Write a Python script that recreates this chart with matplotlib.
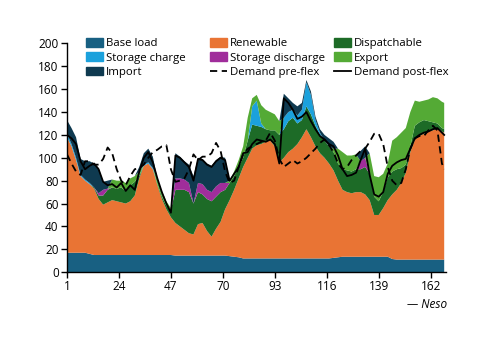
import matplotlib.pyplot as plt
from matplotlib.patches import Patch
from matplotlib.lines import Line2D

plt.rcParams['font.family'] = ['Open Sans', 'DejaVu Sans']

# every second hour over one week (12 values per line + last hour)
hours = list(range(1, 168, 2)) + [168]

base_load = [17, 17, 17, 17, 17, 16, 15, 15, 15, 15, 15, 15,
             15, 15, 15, 15, 15, 15, 15, 15, 15, 15, 15, 15,
             14.5, 14.5, 14.5, 14.5, 14.5, 14.5, 14.5, 14.5, 14.5, 14.5, 14.5, 14.5,
             14, 13.5, 13, 12, 12, 12, 12, 12, 12, 12, 12, 12,
             12, 12, 12, 12, 12, 12, 12, 12, 12, 12, 12, 12.5,
             13, 13.5, 13.5, 13.5, 13.5, 13.5, 13.5, 13.5, 13.5, 13.5, 13.5, 13.5,
             11.5, 11, 11, 11, 11, 11, 11, 11, 11, 11, 11, 11,
             11]
renewable = [101, 93, 81, 67, 63, 61, 58, 49, 44, 46, 48, 47,
             46, 45, 47, 52, 67, 78, 80, 75, 61, 49, 40, 33,
             28.5, 25.5, 22.5, 19.5, 18.5, 27.5, 28.5, 21.5, 16.5, 23.5, 29.5, 40.5,
             49, 58.5, 69, 80, 88, 96, 99, 100, 102, 103, 98, 84,
             88, 93, 96, 100, 106, 113, 106, 98, 92, 88, 83, 76.5,
             67, 58.5, 56.5, 55.5, 56.5, 56.5, 54.5, 49.5, 36.5, 36.5, 42.5, 49.5,
             56.5, 61, 67, 76, 94, 105, 108, 110, 112, 113, 115, 112,
             111]
dispatchable = [0, 0, 0, 0, 0, 0, 1, 3, 8, 11, 11, 11,
                13, 11, 14, 12, 2, 0, 0, 0, 1, 2, 3, 6,
                29, 32, 35, 36, 27, 28, 25, 28, 31, 28, 26, 17,
                15, 12, 10, 8, 15, 21, 17, 15, 11, 9, 14, 24,
                25, 27, 27, 18, 15, 20, 20, 18, 16, 15, 15, 16,
                15, 18, 19, 19, 20, 20, 24, 23, 16, 12, 14, 20,
                20, 18, 13, 7, 5, 12, 12, 12, 9, 7, 4, 3,
                3]
storage_discharge = [0, 0, 0, 0, 0, 0, 0, 2, 5, 1, 0, 0,
                     0, 0, 0, 0, 0, 0, 0, 0, 0, 0, 0, 0,
                     10, 10, 9, 8, 0, 8, 9, 8, 8, 9, 8, 6,
                     0, 0, 0, 0, 0, 0, 0, 0, 0, 0, 0, 0,
                     0, 0, 0, 0, 0, 0, 0, 0, 0, 0, 0, 0,
                     0, 0, 0, 0, 0, 7, 8, 0, 0, 0, 0, 0,
                     0, 0, 0, 0, 0, 0, 0, 0, 0, 0, 0, 0,
                     0]
storage_charge = [3, 2, 2, 1, 1, 1, 0, 0, 0, 0, 0, 0,
                  0, 0, 0, 0, 0, 1, 1, 1, 0, 0, 0, 0,
                  0, 0, 0, 0, 0, 0, 0, 0, 0, 0, 0, 0,
                  0, 0, 0, 0, 0, 16, 22, 3, 0, 0, 0, 0,
                  10, 8, 7, 7, 9, 21, 17, 5, 2, 0, 0, 0,
                  0, 0, 0, 0, 0, 0, 0, 0, 0, 0, 0, 0,
                  0, 0, 0, 0, 0, 0, 0, 0, 0, 0, 0, 0,
                  0]
export = [0, 0, 0, 0, 0, 0, 0, 0, 0, 0, 7, 7,
          6, 7, 6, 5, 4, 0, 0, 0, 5, 5, 4, 2,
          0, 0, 0, 0, 0, 0, 0, 0, 0, 0, 0, 0,
          2, 4, 6, 10, 20, 7, 5, 16, 17, 16, 14, 12,
          0, 0, 0, 0, 0, 0, 0, 0, 0, 0, 0, 3,
          13, 15, 13, 14, 13, 0, 0, 18, 18, 21, 16, 12,
          27, 28, 31, 32, 30, 22, 18, 17, 19, 22, 22, 23,
          23]
imports = [12, 14, 18, 14, 16, 19, 21, 22, 7, 7, 0, 0,
           0, 0, 0, 0, 4, 10, 12, 10, 0, 0, 0, 0,
           22, 19, 16, 16, 24, 22, 22, 23, 23, 23, 23, 22,
           0, 0, 0, 0, 0, 0, 0, 0, 0, 0, 0, 0,
           21, 12, 6, 8, 6, 2, 3, 3, 3, 5, 7, 6,
           0, 0, 0, 0, 0, 9, 10, 0, 0, 0, 0, 0,
           0, 0, 0, 0, 0, 0, 0, 0, 0, 0, 0, 0,
           0]
demand_pre = [103, 95, 88, 85, 97, 97, 94, 94, 99, 109, 104, 90,
              80, 76, 84, 90, 91, 94, 100, 105, 107, 110, 111, 90,
              79, 80, 82, 90, 103, 98, 101, 101, 104, 113, 106, 88,
              78, 80, 92, 103, 108, 110, 112, 114, 115, 122, 115, 99,
              92, 95, 98, 95, 97, 100, 104, 108, 113, 116, 111, 105,
              95, 90, 92, 98, 102, 106, 108, 114, 121, 121, 112, 92,
              80, 76, 78, 90, 108, 117, 119, 119, 124, 128, 124, 95,
              90]
demand_post = [120, 117, 112, 97, 90, 93, 95, 90, 79, 76, 77, 74,
               78, 71, 76, 72, 88, 100, 105, 96, 82, 70, 60, 52,
               102, 100, 96, 92, 80, 99, 98, 94, 92, 97, 100, 98,
               80, 86, 92, 104, 105, 112, 116, 115, 114, 116, 112, 95,
               152, 148, 142, 134, 136, 140, 132, 125, 119, 116, 112, 110,
               102, 90, 84, 85, 87, 98, 108, 85, 68, 66, 70, 86,
               93, 96, 98, 99, 108, 117, 120, 122, 123, 125, 126, 122,
               120]

layers = [base_load, renewable, dispatchable, storage_discharge, storage_charge, export, imports]
colours = ['#186082', '#E97434', '#1D6B27', '#A02D9B', '#1BA1DC', '#54AA35', '#0F3A50']

fig = plt.figure(figsize=(5, 3.53), dpi=100)
ax = fig.add_axes([0.134, 0.229, 0.758, 0.648])
ax.stackplot(hours, *layers, colors=colours, linewidth=0)
ax.plot(hours, demand_pre, color='black', lw=1.3, dashes=(4, 2.5))
ax.plot(hours, demand_post, color='black', lw=1.3)

ax.set_xlim(1, 168.8)
ax.set_ylim(0, 200)
ax.set_xticks([1, 24, 47, 70, 93, 116, 139, 162])
ax.set_yticks(range(0, 201, 20))
for s in ['top', 'right']:
    ax.spines[s].set_visible(False)
ax.spines['left'].set_linewidth(1)
ax.spines['bottom'].set_linewidth(1)
ax.tick_params(length=4, width=1, labelsize=8.5, pad=2)

# legend laid out in three fixed columns
names = ['Base load', 'Renewable', 'Dispatchable', 'Storage discharge', 'Storage charge', 'Export', 'Import']
handles = {n: Patch(color=c) for n, c in zip(names, colours)}
handles['Demand pre-flex'] = Line2D([], [], color='black', lw=1.3, dashes=(4, 2.5))
handles['Demand post-flex'] = Line2D([], [], color='black', lw=1.3)
columns = [['Base load', 'Storage charge', 'Import'],
           ['Renewable', 'Storage discharge', 'Demand pre-flex'],
           ['Dispatchable', 'Export', 'Demand post-flex']]
for i, col in enumerate(columns):
    fig.legend([handles[n] for n in col], col, loc='upper left',
               bbox_to_anchor=(0.160 + i * 0.248, 0.909), frameon=False,
               fontsize=8.2, borderpad=0, handlelength=1.5, handleheight=0.8,
               handletextpad=0.3, labelspacing=0.27)

fig.text(0.894, 0.136, '— Neso', ha='right', va='center', style='italic', fontsize=8.5)
fig.savefig('out.png', dpi=100)
